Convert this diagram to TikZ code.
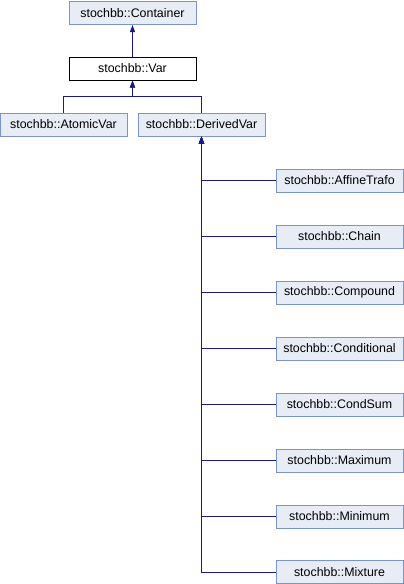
\documentclass[tikz,border=0pt]{standalone}
\usepackage{fontspec}
\setmainfont{Liberation Sans}
\usetikzlibrary{arrows.meta}
\definecolor{boxfill}{RGB}{232,236,245}
\definecolor{boxedge}{RGB}{122,148,204}
\definecolor{edgecol}{RGB}{25,25,140}
\tikzset{
  cls/.style={draw=boxedge, fill=boxfill, line width=1pt, minimum width=127pt, minimum height=23pt, inner sep=0pt, font=\fontsize{12.4pt}{14pt}\selectfont},
  cur/.style={cls, draw=black, fill=white},
  inh/.style={draw=edgecol, line width=1pt, -{Triangle[length=7pt,width=5pt]}}
}
\begin{document}
\begin{tikzpicture}[x=1pt,y=-1pt]
\useasboundingbox (0,0) rectangle (404,584);
\node[cls] (cont) at (132.5,13) {stochbb::Container};
\node[cur] (var) at (132.5,68.5) {stochbb::Var};
\node[cls] (atom) at (63.5,124.5) {stochbb::AtomicVar};
\node[cls] (der) at (201.5,124.5) {stochbb::DerivedVar};
\node[cls] (c1) at (339.5,180.5) {stochbb::AffineTrafo};
\node[cls] (c2) at (339.5,236.5) {stochbb::Chain};
\node[cls] (c3) at (339.5,292.5) {stochbb::Compound};
\node[cls] (c4) at (339.5,348.5) {stochbb::Conditional};
\node[cls] (c5) at (339.5,404.5) {stochbb::CondSum};
\node[cls] (c6) at (339.5,460.5) {stochbb::Maximum};
\node[cls] (c7) at (339.5,516.5) {stochbb::Minimum};
\node[cls] (c8) at (339.5,572) {stochbb::Mixture};
\coordinate (bl) at (63.5,96);
\coordinate (br) at (201.5,96);
\draw[inh] (var.north) -- (cont.south);
\draw[inh] (atom.north) -- (bl) -| (var.south);
\draw[inh] (der.north) -- (br) -| (var.south);
\foreach \c in {c1,c2,c3,c4,c5,c6,c7,c8}{
  \draw[inh] (\c.west) -| (der.south);
}
\end{tikzpicture}
\end{document}
